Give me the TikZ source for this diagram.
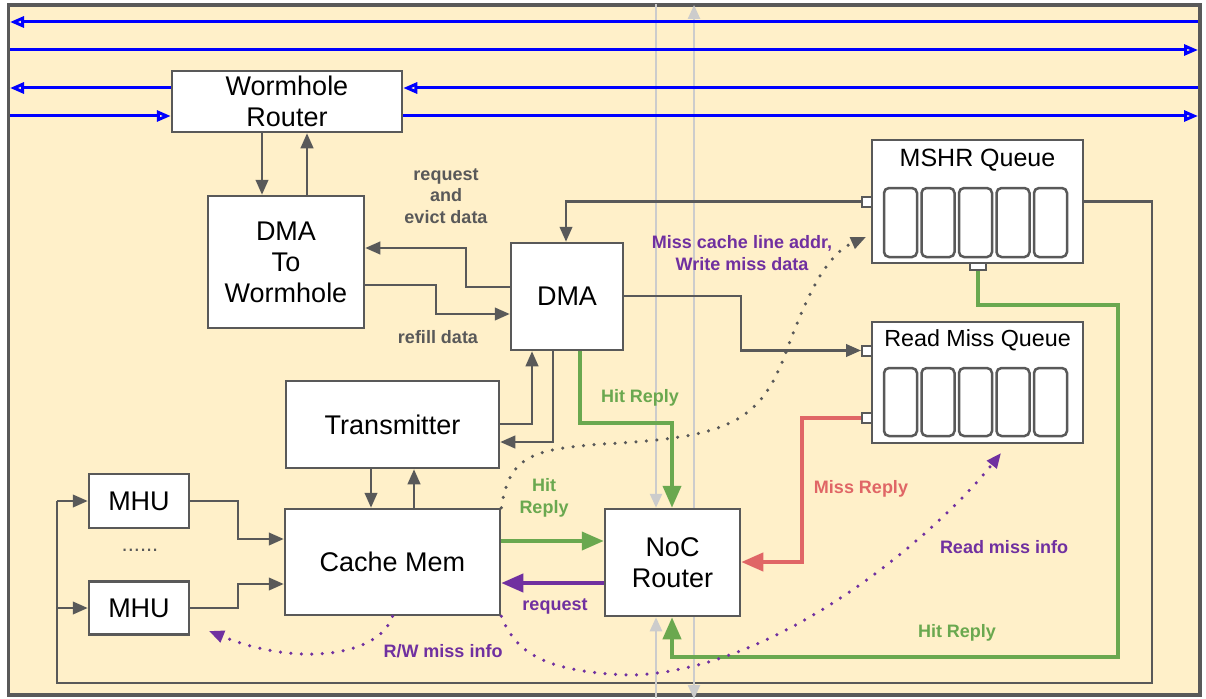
\documentclass[tikz,border=0pt]{standalone}
\usepackage{fontspec}
\setmainfont{Liberation Sans}
\usetikzlibrary{arrows.meta}
\definecolor{bgy}{HTML}{FFF0C9}
\definecolor{edge}{HTML}{595959}
\definecolor{wire}{HTML}{0000FF}
\definecolor{lgrey}{HTML}{CCCCCC}
\definecolor{hit}{HTML}{6AA84F}
\definecolor{miss}{HTML}{E06666}
\definecolor{info}{HTML}{7030A0}
\begin{document}
\begin{tikzpicture}[x=1pt,y=-1pt,
  box/.style={draw=edge, line width=2.5pt, fill=white, align=center, inner sep=0pt,
    font=\fontsize{27}{31}\selectfont},
  slot/.style={draw=edge, line width=2.5pt, fill=white, rounded corners=5pt},
  port/.style={draw=edge, line width=2pt, fill=white, inner sep=0pt, minimum size=10pt},
  ga/.style={draw=edge, line width=2.5pt, -{Triangle[length=15pt,width=12.5pt]}},
  gl/.style={draw=edge, line width=2.5pt},
  lg/.style={draw=lgrey, line width=2.5pt, -{Triangle[length=14pt,width=12pt]}},
  bw/.style={draw=wire, line width=3pt, -{Triangle[open,length=14pt,width=11pt]}},
  gr/.style={draw=hit, line width=4pt, -{Triangle[length=22pt,width=18pt]}},
  rd/.style={draw=miss, line width=4pt, -{Triangle[length=22pt,width=18pt]}},
  pu/.style={draw=info, line width=4pt, -{Triangle[length=22pt,width=18pt]}},
  dots/.style={line width=3.5pt, line cap=round, dash pattern=on 0pt off 10.5pt},
  lab/.style={font=\fontsize{18}{21.5}\selectfont\bfseries, align=center, inner sep=0pt}
]
\useasboundingbox (0,0) rectangle (1206,698);

% frame
\draw[draw=edge, line width=3.5pt, fill=bgy] (8.5,5) rectangle (1200,695);

% blocks
\node[box, minimum width=230pt, minimum height=61pt] (wr) at (287,101.5) {Wormhole\\Router};
\node[box, minimum width=156pt, minimum height=132pt] (d2w) at (286,262) {DMA\\To\\Wormhole};
\node[box, minimum width=112pt, minimum height=107pt] (dma) at (567,296.5) {DMA};
\node[box, minimum width=213pt, minimum height=87pt] (tx) at (392.5,424.5) {Transmitter};
\node[box, minimum width=215pt, minimum height=106pt] (cm) at (392.5,562) {Cache Mem};
\node[box, minimum width=100pt, minimum height=54pt] (mhu1) at (139,501) {MHU};
\node[box, minimum width=100pt, minimum height=53pt] (mhu2) at (139,608) {MHU};
\node[font=\fontsize{22}{26}\selectfont, text=edge, inner sep=0pt] (dd) at (140,550) {......};
\node[box, minimum width=135pt, minimum height=107pt] (noc) at (672.5,562.5) {NoC\\Router};
\node[box, minimum width=211pt, minimum height=123pt] (mshr) at (977.5,201.5) {};
\node[box, minimum width=211pt, minimum height=121pt] (rmq) at (977.5,382.5) {};
\node[font=\fontsize{25}{30}\selectfont, inner sep=0pt] (mshrt) at (977.5,160) {MSHR Queue};
\node[font=\fontsize{23.3}{28}\selectfont, inner sep=0pt] (rmqt) at (977.5,340) {Read Miss Queue};
\foreach \sx in {884,921.5,959,996.5,1034} {
  \draw[slot] (\sx,188) rectangle ++(33,69);
  \draw[slot] (\sx,368) rectangle ++(33,68);
}
\node[port] (mp) at (867,201.5) {};
\node[port, minimum width=16pt, minimum height=7pt] (mbp) at (978,266.5) {};
\node[port] (rp1) at (867,350.5) {};
\node[port] (rp2) at (867,418) {};

% feedback wire from the MSHR queue to the MHUs
\draw[gl] (mshr.east) -- (1152,201.5) |- (57,683) -- (57,501);
\draw[ga] (57,608) -- (mhu2.west);
\draw[ga] (57,501) -- (mhu1.west);

% NoC ports through the frame
\draw[lg] (656,4) -- (noc.north -| 656,0);
\draw[lg] (656,698) -- (noc.south -| 656,0);
\draw[lg] (noc.north -| 694,0) -- (694,5);
\draw[lg] (noc.south -| 694,0) -- (694,699);

% wormhole channels
\coordinate (l1) at (10,22);   \coordinate (r1) at (1198,22);
\coordinate (l2) at (10,50);   \coordinate (r2) at (1198,50);
\draw[bw] (r1) -- (l1);
\draw[bw] (l2) -- (r2);
\draw[bw] (wr.west |- 0,88) -- (10,88);
\draw[bw] (1198,88) -- (wr.east |- 0,88);
\draw[bw] (10,116) -- (wr.west |- 0,116);
\draw[bw] (wr.east |- 0,116) -- (1198,116);

% control and data wires
\draw[ga] (wr.south -| 262,0) -- (d2w.north -| 262,0);
\draw[ga] (d2w.north -| 307,0) -- (wr.south -| 307,0);
\draw[ga] (dma.west |- 0,287) -- (466,287) |- (d2w.east |- 0,248);
\draw[ga] (d2w.east |- 0,285) -- (436,285) |- (dma.west |- 0,314);
\draw[ga] (mp.west) -| (dma.north -| 566,0);
\draw[ga] (dma.east |- 0,296) -- (741,296) |- (rp1.west);
\draw[ga] (tx.east |- 0,424) -| (dma.south -| 532,0);
\draw[ga] (dma.south -| 553,0) |- (tx.east |- 0,442);
\draw[ga] (tx.south -| 371,0) -- (cm.north -| 371,0);
\draw[ga] (cm.north -| 414,0) -- (tx.south -| 414,0);
\draw[ga] (mhu1.east) -- (238,501) |- (cm.west |- 0,539);
\draw[ga] (mhu2.east) -- (238,608) |- (cm.west |- 0,584);

% replies and requests
\draw[gr] (dma.south -| 580,0) |- (672,423) -- (noc.north -| 672,0);
\draw[gr] (cm.east |- 0,541) -- (noc.west |- 0,541);
\draw[pu] (noc.west |- 0,583) -- (cm.east |- 0,583);
\draw[rd] (rp2.west) -| (802,562) -- (noc.east |- 0,562);
\draw[gr] (mbp.south) |- (1118,305) |- (672,657) -- (noc.south -| 672,0);

% miss information flows
\coordinate (mtip) at (866,237);
\coordinate (rwtip) at (209,631);
\coordinate (rmtip) at (1001,453);
\draw[dots, draw=edge, -{Triangle[length=15pt,width=12pt]}]
  (cm.north east) .. controls (510,455) and (530,448) .. (620,443)
  .. controls (730,436) and (760,420) .. (785,355)
  .. controls (805,300) and (825,255) .. (mtip);
\draw[dots, draw=info, -{Triangle[length=15pt,width=12pt]}]
  (cm.south) .. controls (380,655) and (300,668) .. (rwtip);
\draw[dots, draw=info, -{Triangle[length=15pt,width=12pt]}]
  (cm.south east) .. controls (515,650) and (540,672) .. (630,675)
  .. controls (780,672) and (940,530) .. (rmtip);

% labels
\node[lab, text=edge] (lreq) at (446,196) {request\\and\\evict data};
\node[lab, text=edge] (lref) at (438,337) {refill data};
\node[lab, text=info] (lmiss) at (742,253) {Miss cache line addr,\\Write miss data};
\node[lab, text=hit] (lhit1) at (640,398) {Hit Reply};
\node[lab, text=hit] (lhit2) at (544,498) {Hit\\Reply};
\node[lab, text=info] (lrq) at (555,606) {request};
\node[lab, text=miss] (lmr) at (861,489) {Miss Reply};
\node[lab, text=info] (lrmi) at (1004,547) {Read miss info};
\node[lab, text=info] (lrw) at (443,651) {R/W miss info};
\node[lab, text=hit] (lhit3) at (957,633) {Hit Reply};
\end{tikzpicture}
\end{document}
